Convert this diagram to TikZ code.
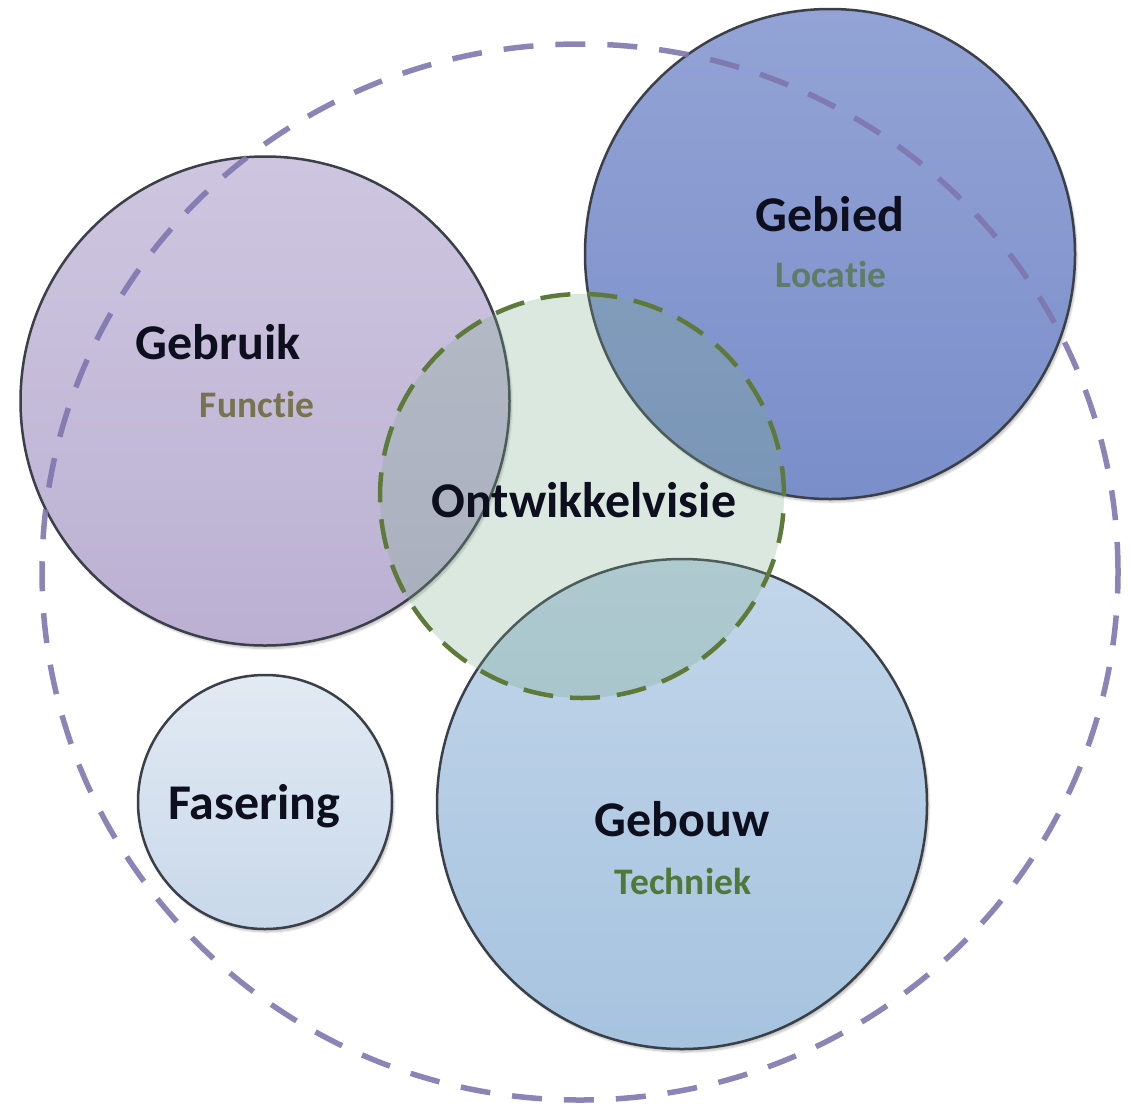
\documentclass[tikz,border=0pt]{standalone}
\usepackage{fontspec}
\setmainfont{Carlito}[Ligatures=NoCommon]
\usetikzlibrary{shapes.geometric,shadows.blur}
\definecolor{circline}{HTML}{3A3F48}
\definecolor{headcol}{HTML}{0E0F1E}
\definecolor{gebruikTop}{HTML}{CEC6E0}
\definecolor{gebruikBot}{HTML}{BBB0D2}
\definecolor{gebiedTop}{HTML}{93A3D5}
\definecolor{gebiedBot}{HTML}{7A8ECA}
\definecolor{gebouwTop}{HTML}{C2D6EA}
\definecolor{gebouwBot}{HTML}{A6C3DF}
\definecolor{faseTop}{HTML}{E2EAF3}
\definecolor{faseBot}{HTML}{C8D8EA}
\definecolor{visiefill}{HTML}{7AAB87}
\definecolor{visieline}{HTML}{5E7A3A}
\definecolor{purpdash}{HTML}{7E77AE}
\definecolor{functiecol}{HTML}{76734E}
\definecolor{locatiecol}{HTML}{5F7D66}
\definecolor{techniekcol}{HTML}{4F7839}
\begin{document}
\begin{tikzpicture}[x=1pt,y=-1pt,
  bubble/.style={circle, draw=circline, line width=2.5pt, inner sep=0pt,
    blur shadow={shadow xshift=2pt, shadow yshift=-3pt, shadow opacity=25, shadow blur steps=6}},
  head/.style={font=\bfseries\fontsize{50}{60}\selectfont, text=headcol, anchor=base, inner sep=0pt},
  sub/.style={font=\bfseries\fontsize{37.5}{45}\selectfont, anchor=base, inner sep=0pt}]
\useasboundingbox (0,0) rectangle (1132,1111);
% main circles
\node[bubble, minimum size=489pt, top color=gebruikTop, bottom color=gebruikBot] (gebruik) at (265,401) {};
\node[bubble, minimum size=490pt, top color=gebiedTop, bottom color=gebiedBot] (gebied) at (830,254) {};
\node[bubble, minimum size=490pt, top color=gebouwTop, bottom color=gebouwBot] (gebouw) at (682,804) {};
\node[bubble, minimum size=254pt, top color=faseTop, bottom color=faseBot] (fasering) at (265,802) {};
% ontwikkelvisie
\node[circle, minimum size=404pt, inner sep=0pt, fill=visiefill, fill opacity=0.27] (visiebg) at (582,496) {};
\node[circle, minimum size=404pt, inner sep=0pt, draw=visieline, line width=4.5pt, dash pattern=on 30pt off 17pt] (visie) at (582,496) {};
% big dashed scope
\node[ellipse, minimum width=1076pt, minimum height=1056pt, inner sep=0pt, draw=purpdash, draw opacity=0.9, line width=5.5pt, dash pattern=on 30pt off 22pt] (scope) at (580,572) {};
% labels
\node[head] (tgebruik) at (218,359) {Gebruik};
\node[sub, text=functiecol] (tfunctie) at (257,417) {Functie};
\node[head] (tgebied) at (830,231) {Gebied};
\node[sub, text=locatiecol] (tlocatie) at (831,287) {Locatie};
\node[head] (tvisie) at (584,517) {Ontwikkelvisie};
\node[head] (tfase) at (254,819) {Fasering};
\node[head] (tgebouw) at (682,836) {Gebouw};
\node[sub, text=techniekcol] (ttechniek) at (683,894) {Techniek};
\end{tikzpicture}
\end{document}
